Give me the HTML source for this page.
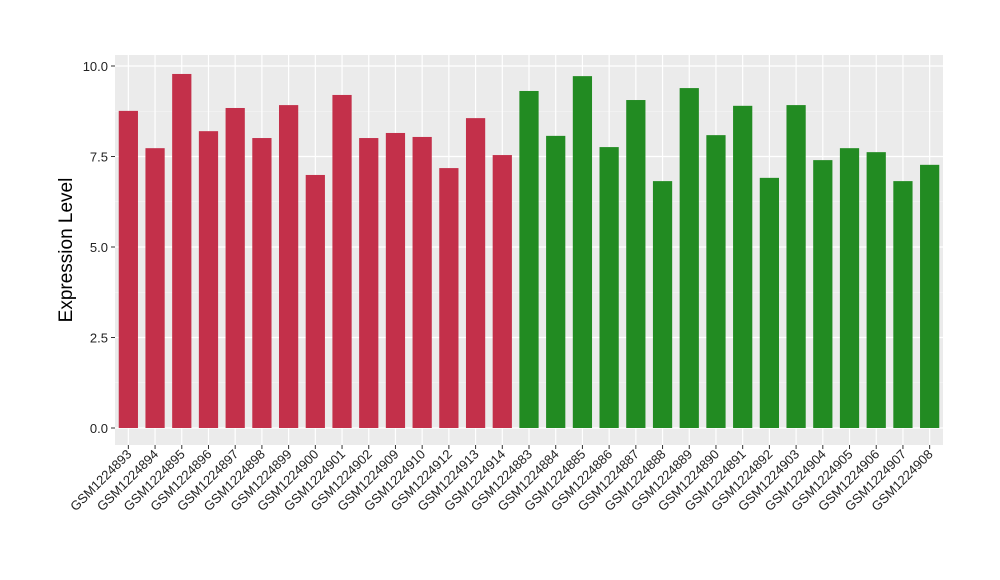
<!DOCTYPE html>
<html><head><meta charset="utf-8"><style>
body{margin:0;background:#fff;}
svg{display:block;font-family:"Liberation Sans",sans-serif;}
</style></head><body>
<svg id="chart" width="1000" height="580">
<rect x="115" y="55" width="828" height="390" fill="#ebebeb"/>
<g id="grid"></g><g id="bars"></g><g id="yaxis"></g><g id="xaxis"></g>
<text transform="translate(72,250) rotate(-90)" text-anchor="middle" font-size="19" fill="#000">Expression Level</text>
</svg>
<script>
const categories=["GSM1224893","GSM1224894","GSM1224895","GSM1224896","GSM1224897","GSM1224898","GSM1224899","GSM1224900","GSM1224901","GSM1224902","GSM1224909","GSM1224910","GSM1224912","GSM1224913","GSM1224914","GSM1224883","GSM1224884","GSM1224885","GSM1224886","GSM1224887","GSM1224888","GSM1224889","GSM1224890","GSM1224891","GSM1224892","GSM1224903","GSM1224904","GSM1224905","GSM1224906","GSM1224907","GSM1224908"];
const values=[8.76,7.73,9.78,8.2,8.84,8.01,8.92,6.99,9.2,8.01,8.15,8.04,7.18,8.56,7.54,9.31,8.07,9.72,7.76,9.06,6.82,9.39,8.09,8.9,6.91,8.92,7.4,7.73,7.62,6.82,7.27];
const groups=["a","a","a","a","a","a","a","a","a","a","a","a","a","a","a","b","b","b","b","b","b","b","b","b","b","b","b","b","b","b","b"];
const yTicks=[0,2.5,5,7.5,10];
const yTickLabels=["0.0","2.5","5.0","7.5","10.0"];
const colors={a:"#c3304a",b:"#228b22"};
const NS="http://www.w3.org/2000/svg";
const x0=115,x1=943,step=(x1-x0)/categories.length;
const xc=i=>x0+step*(i+0.5);
const y=v=>428-v*36.2;
function mk(t,a,p){const e=document.createElementNS(NS,t);for(const k in a)e.setAttribute(k,a[k]);p.appendChild(e);return e;}
const grid=document.getElementById('grid');
for(let i=0;i<yTicks.length;i++){
 const g=mk('line',{x1:x0,x2:x1,y1:y(yTicks[i]),y2:y(yTicks[i]),stroke:'#fff','stroke-width':1.2},grid);
 
 
 if(i<yTicks.length-1){const m=(yTicks[i]+yTicks[i+1])/2;
 const g2=mk('line',{x1:x0,x2:x1,y1:y(m),y2:y(m),stroke:'#f7f7f7','stroke-width':0.6},grid);
 
 }
}
categories.forEach((c,i)=>{
 const g=mk('line',{x1:xc(i),x2:xc(i),y1:55,y2:445,stroke:'#fff','stroke-width':1.2},grid);
 
 
});
const bars=document.getElementById('bars');
const bw=step*0.72;
values.forEach((v,i)=>{
 const r=mk('rect',{x:xc(i)-bw/2,y:y(v),width:bw,height:y(0)-y(v),fill:colors[groups[i]]},bars);
 
 
});
const ya=document.getElementById('yaxis');
yTicks.forEach((t,i)=>{
 const l=mk('line',{x1:111,x2:115,y1:y(t),y2:y(t),stroke:'#333'},ya);
 
 
 const tx=mk('text',{x:108,y:y(t)+5,'text-anchor':'end','font-size':13,fill:'#222'},ya);
 tx.textContent=yTickLabels[i];
 
 
});
const xa=document.getElementById('xaxis');
categories.forEach((c,i)=>{
 const l=mk('line',{x1:xc(i),x2:xc(i),y1:445,y2:449,stroke:'#333'},xa);
 
 
 const tx=mk('text',{transform:`translate(${xc(i)+4},${455}) rotate(-45)`,'text-anchor':'end','font-size':13,fill:'#222'},xa);
 tx.textContent=c;
 
 
});
</script>
</body></html>
